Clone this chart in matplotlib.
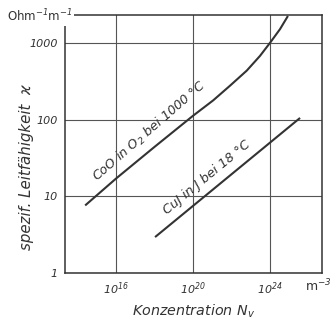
import matplotlib
matplotlib.use('Agg')
import matplotlib.pyplot as plt

# ── Daten ────────────────────────────────────────────────────────────────────
coo_N     = [10**14.4, 1e16, 1e18, 1e20, 10**21.05, 10**21.92, 10**22.79,
             10**23.48, 1e24, 10**24.52, 10**24.93]
coo_kappa = [7.6, 17, 44, 112, 178, 276, 434, 676, 1000, 1510, 2240]
cuj_N     = [10**18.03, 10**25.56]
cuj_kappa = [2.94, 105]

x_ticks  = [1e16, 1e20, 1e24]
x_labels = [r'$10^{16}$', r'$10^{20}$', r'$10^{24}$']
y_ticks  = [1, 10, 100, 1000]
y_labels = ['1', '10', '100', '1000']

plt.rcParams['font.family'] = ['DejaVu Sans']
plt.rcParams['font.style'] = 'italic'
plt.rcParams['mathtext.fontset'] = 'dejavusans'
plt.rcParams['mathtext.default'] = 'it'
INK = '#333333'

fig = plt.figure(figsize=(3.33, 3.21), dpi=100)
ax = fig.add_axes([0.195, 0.1495, 0.772, 0.8035])
ax.set_xscale('log'); ax.set_yscale('log')
ax.set_xlim(10**13.35, 10**26.7)
ax.set_ylim(1, 2300)

ax.plot(coo_N, coo_kappa, color=INK, lw=1.5, solid_capstyle='butt', zorder=3)
ax.plot(cuj_N, cuj_kappa, color=INK, lw=1.5, solid_capstyle='butt', zorder=3)

ax.set_xticks(x_ticks); ax.set_xticklabels(x_labels)
ax.set_yticks(y_ticks); ax.set_yticklabels(y_labels)
ax.minorticks_off()
ax.tick_params(length=0, labelsize=8, colors=INK, pad=5)
ax.grid(True, which='major', axis='both', color='#555555', linewidth=0.8)
for s in ax.spines.values():
    s.set_color(INK); s.set_linewidth(1.1)

ax.text(0.331, 0.55, r'CoO in O$_2$ bei 1000 °C', transform=ax.transAxes,
        rotation=41, ha='center', va='center', fontsize=9.3, color=INK)
ax.text(0.553, 0.372, 'CuJ in J bei 18 °C', transform=ax.transAxes,
        rotation=39.5, ha='center', va='center', fontsize=9.3, color=INK)

fig.text(0.12, 0.950, r'Ohm$^{-1}$m$^{-1}$', ha='center', va='center', fontsize=8.5,
         style='normal', color=INK, bbox=dict(fc='white', ec='none', pad=1))
fig.text(0.955, 0.109, r'm$^{-3}$', ha='center', va='center', fontsize=9,
         style='normal', color=INK)
ax.set_xlabel(r'Konzentration $N_v$', fontsize=10.3, color=INK, labelpad=4)
ax.set_ylabel(r'spezif. Leitfähigkeit  ϰ', fontsize=10.8, color=INK)
ax.yaxis.set_label_coords(-0.12, 0.41)

fig.savefig('out.png', dpi=100)
